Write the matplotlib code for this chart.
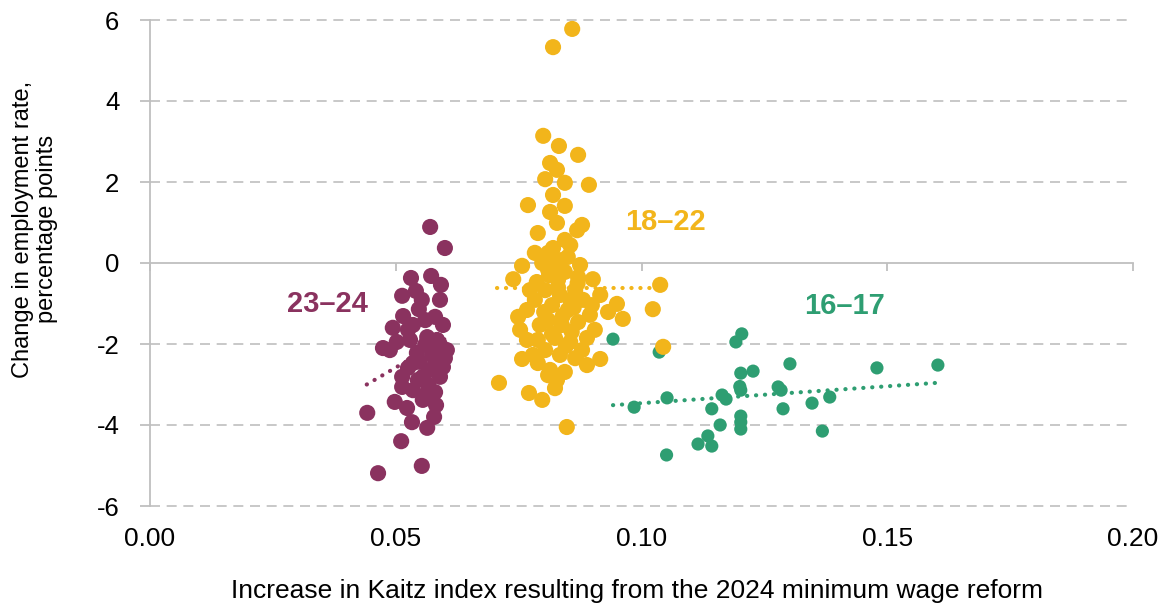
import matplotlib
matplotlib.use("Agg")
import matplotlib.pyplot as plt
import numpy as np

plt.rcParams['font.family'] = ['Liberation Sans', 'DejaVu Sans']

# 23-24 age group
x_2324 = [0.0570, 0.0600, 0.0531, 0.0572, 0.0592, 0.0541, 0.0513, 0.0547, 0.0515, 0.0580,
          0.0596, 0.0494, 0.0535, 0.0564, 0.0474, 0.0488, 0.0604, 0.0543, 0.0574, 0.0535,
          0.0570, 0.0596, 0.0555, 0.0590, 0.0513, 0.0513, 0.0535, 0.0580, 0.0555, 0.0498,
          0.0523, 0.0442, 0.0578, 0.0533, 0.0564, 0.0511, 0.0553, 0.0464, 0.0560, 0.0584,
          0.0549, 0.0580, 0.0600, 0.0566, 0.0545, 0.0525, 0.0529, 0.0502, 0.0560, 0.0590,
          0.0553, 0.0525, 0.0590, 0.0560, 0.0582]
y_2324 = [0.89, 0.37, -0.37, -0.32, -0.54, -0.69, -0.81, -1.14, -1.31, -1.33,
          -1.53, -1.60, -1.53, -1.83, -2.10, -2.15, -2.15, -2.22, -2.27, -2.47,
          -2.64, -2.57, -2.81, -2.81, -2.81, -3.06, -3.14, -3.19, -3.38, -3.43,
          -3.58, -3.70, -3.80, -3.93, -4.07, -4.40, -5.01, -5.19, -2.02, -1.90,
          -2.44, -2.52, -2.35, -3.01, -2.89, -2.59, -1.90, -1.95, -1.41, -0.91,
          -0.91, -1.65, -2.02, -3.26, -3.51]

# 18-22 age group
x_1822 = [0.0859, 0.0820, 0.0800, 0.0832, 0.0871, 0.0814, 0.0828, 0.0804, 0.0844, 0.0893,
          0.0820, 0.0769, 0.0844, 0.0814, 0.0828, 0.0879, 0.0869, 0.0789, 0.0844, 0.0783,
          0.0810, 0.0850, 0.0798, 0.0757, 0.0826, 0.0739, 0.0787, 0.0830, 0.0871, 0.0901,
          0.1038, 0.1023, 0.1044, 0.0950, 0.0932, 0.0962, 0.0749, 0.0767, 0.0793, 0.0895,
          0.0767, 0.0789, 0.0889, 0.0757, 0.0789, 0.0889, 0.0916, 0.0710, 0.0771, 0.0798,
          0.0828, 0.0848, 0.0804, 0.0834, 0.0865, 0.0818, 0.0850, 0.0881, 0.0810, 0.0838,
          0.0871, 0.0824, 0.0855, 0.0804, 0.0834, 0.0865, 0.0814, 0.0844, 0.0824, 0.0810,
          0.0844, 0.0875, 0.0783, 0.0773, 0.0905, 0.0916, 0.0855, 0.0820, 0.0753, 0.0879,
          0.0899, 0.0802, 0.0779, 0.0834, 0.0810, 0.0855, 0.0840, 0.0862, 0.0818, 0.0846,
          0.0870, 0.0830, 0.0858, 0.0812]
y_1822 = [5.78, 5.33, 3.14, 2.89, 2.67, 2.47, 2.30, 2.07, 1.98, 1.93,
          1.68, 1.43, 1.41, 1.26, 0.99, 0.94, 0.81, 0.74, 0.57, 0.25,
          0.25, 0.15, 0.00, -0.07, -0.05, -0.40, -0.47, -0.42, -0.35, -0.40,
          -0.54, -1.14, -2.07, -1.01, -1.21, -1.38, -1.33, -1.16, -1.53, -1.28,
          -1.90, -1.90, -1.85, -2.37, -2.47, -2.52, -2.37, -2.96, -3.21, -3.38,
          -2.89, -4.05, -0.67, -0.79, -0.67, -1.04, -1.16, -0.91, -1.41, -1.53,
          -1.46, -1.85, -1.95, -2.15, -2.27, -2.35, -2.64, -2.69, -3.09, -0.17,
          -0.22, -0.05, -0.91, -0.67, -1.65, -0.79, 0.44, 0.37, -1.65, -2.15,
          -1.04, -1.21, -2.27, 0.07, -2.77, -0.91, -1.30, -1.10, -1.75, -2.05,
          -0.50, -0.60, -1.70, -0.30]

# 16-17 age group
x_1617 = [0.0942, 0.1036, 0.0985, 0.1052, 0.1051, 0.1143, 0.1135, 0.1115, 0.1143, 0.1160,
          0.1164, 0.1172, 0.1202, 0.1200, 0.1202, 0.1204, 0.1192, 0.1227, 0.1202, 0.1202,
          0.1202, 0.1278, 0.1284, 0.1288, 0.1302, 0.1347, 0.1368, 0.1383, 0.1479, 0.1603]
y_1617 = [-1.88, -2.20, -3.56, -3.33, -4.74, -3.60, -4.27, -4.47, -4.52, -4.00,
          -3.26, -3.36, -3.14, -3.05, -2.72, -1.75, -1.95, -2.67, -3.78, -3.93,
          -4.10, -3.06, -3.14, -3.60, -2.49, -3.46, -4.15, -3.31, -2.59, -2.52]

# linear trend end points
trend_x_2324 = [0.0441, 0.0602]
trend_y_2324 = [-3.00, -1.86]
trend_x_1822 = [0.0706, 0.1025]
trend_y_1822 = [-0.62, -0.62]
trend_x_1617 = [0.0942, 0.1600]
trend_y_1617 = [-3.51, -2.96]

xticks = [0, 0.05, 0.1, 0.15, 0.2]
xtick_labels = ['0.00', '0.05', '0.10', '0.15', '0.20']
yticks = [-6, -4, -2, 0, 2, 4, 6]

purple = '#8A325F'
yellow = '#F2B51B'
green = '#2E9E72'
grid_col = '#BFBFBF'

fig = plt.figure(figsize=(11.63, 6.05), dpi=100)
ax = fig.add_axes([150 / 1163, 1 - 506 / 605, 983 / 1163, 486 / 605])

for y in [-6, -4, -2, 2, 4, 6]:
    ax.axhline(y, color=grid_col, lw=1.2, ls=(0, (6, 4)), zorder=0.5, clip_on=False)

dot = (0, (0.05, 2.1))
ax.plot(trend_x_2324, trend_y_2324, color=purple, lw=3, ls=dot, dash_capstyle='round', zorder=1)
ax.plot(trend_x_1822, trend_y_1822, color=yellow, lw=3, ls=dot, dash_capstyle='round', zorder=1)
ax.plot(trend_x_1617, trend_y_1617, color=green, lw=3, ls=dot, dash_capstyle='round', zorder=1)

ax.scatter(x_1617, y_1617, s=90, color=green, edgecolors='none', zorder=2)
ax.scatter(x_2324, y_2324, s=135, color=purple, edgecolors='none', zorder=3)
ax.scatter(x_1822, y_1822, s=135, color=yellow, edgecolors='none', zorder=4)

ax.text(0.0360, -1.0, '23–24', color=purple, fontsize=21, fontweight='bold', ha='center', va='center')
ax.text(0.1048, 1.0, '18–22', color=yellow, fontsize=21, fontweight='bold', ha='center', va='center')
ax.text(0.1414, -1.05, '16–17', color=green, fontsize=21, fontweight='bold', ha='center', va='center')

ax.set_xlim(0, 0.2)
ax.set_ylim(-6, 6)
ax.set_yticks(yticks)
ax.set_yticklabels([str(v) for v in yticks])

# x axis line sits at zero, with tick marks but no labels
ax.spines['bottom'].set_position(('data', 0))
ax.spines['bottom'].set_color(grid_col)
ax.spines['bottom'].set_linewidth(1.3)
ax.set_xticks(xticks)
ax.tick_params(axis='x', direction='out', length=6, width=1.3, color=grid_col, labelbottom=False)

for s in ['top', 'right']:
    ax.spines[s].set_visible(False)
ax.spines['left'].set_color(grid_col)
ax.spines['left'].set_linewidth(1.3)
ax.tick_params(axis='y', length=7, width=1.3, color=grid_col, pad=15, labelsize=18.5)

# labels along the bottom edge
sec = ax.secondary_xaxis('bottom')
sec.set_xticks(xticks)
sec.set_xticklabels(xtick_labels)
sec.tick_params(axis='x', length=0, pad=15, labelsize=19)
sec.spines['bottom'].set_visible(False)

fig.text(35 / 1163, 1 - 229 / 605, 'Change in employment rate,\npercentage points',
         rotation=90, ha='center', va='center', fontsize=17, linespacing=1.1)
fig.text(637 / 1163, 1 - 591 / 605, 'Increase in Kaitz index resulting from the 2024 minimum wage reform',
         ha='center', va='center', fontsize=19)

fig.savefig('out.png', dpi=100)
